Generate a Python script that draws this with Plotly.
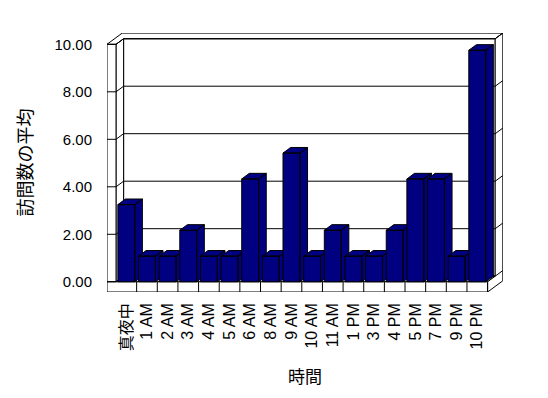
import plotly.graph_objects as go

# ---------------- data ----------------
categories = ["真夜中", "1 AM", "2 AM", "3 AM", "4 AM", "5 AM", "6 AM", "8 AM", "9 AM",
              "10 AM", "11 AM", "1 PM", "3 PM", "4 PM", "5 PM", "7 PM", "9 PM", "10 PM"]
values = [3.25, 1.08, 1.08, 2.17, 1.08, 1.08, 4.33, 1.08, 5.42,
          1.08, 2.17, 1.08, 1.08, 2.17, 4.33, 4.33, 1.08, 9.75]
y_tick_values = [0, 2, 4, 6, 8, 10]
y_tick_labels = ["0.00", "2.00", "4.00", "6.00", "8.00", "10.00"]
x_title = "時間"
y_title = "訪問数の平均"

# ---------------- styling / geometry (pixels) ----------------
W, H = 548, 398
PLOT_L, PLOT_R, PLOT_T, PLOT_B = 106.7, 502.7, 33.0, 291.7
FRONT_X0, FRONT_X1 = 115.7, 487.3      # pixel x of category band edges on front plane
FRONT_Y0, FRONT_Y1 = 281.5, 44.3       # pixel y of value 0 and value 10 on front plane
DEPTH_PX = (7.6, 5.6)                  # oblique depth offset (right, up)
BAR_COLOR = "#000080"
LINE = dict(color="black", width=1)
FONT = "Liberation Sans, Arial, Noto Sans CJK JP, sans-serif"

N = len(categories)
X_LO, X_HI = -0.5, N - 0.5
Y_LO, Y_HI = y_tick_values[0], y_tick_values[-1]
sx = (FRONT_X1 - FRONT_X0) / (X_HI - X_LO)
sy = (FRONT_Y0 - FRONT_Y1) / (Y_HI - Y_LO)
x_range = [X_LO - (FRONT_X0 - PLOT_L) / sx, X_HI + (PLOT_R - FRONT_X1) / sx]
y_range = [Y_LO - (PLOT_B - FRONT_Y0) / sy, Y_HI + (FRONT_Y1 - PLOT_T) / sy]
DX, DY = DEPTH_PX[0] / sx, DEPTH_PX[1] / sy
LW = (FRONT_X0 - PLOT_L) / sx           # left wall thickness
FT = (PLOT_B - FRONT_Y0) / sy           # floor thickness
BAR_W = 0.82

fig = go.Figure()

# ---------------- 3D bars ----------------
for i, v in enumerate(values):
    xl, xr = i - BAR_W / 2, i + BAR_W / 2
    xs, ys = [], []
    # side face
    xs += [xr, xr + DX, xr + DX, xr, xr, None]
    ys += [0, DY, v + DY, v, 0, None]
    # top face
    xs += [xl, xr, xr + DX, xl + DX, xl, None]
    ys += [v, v, v + DY, v + DY, v, None]
    # front face
    xs += [xl, xr, xr, xl, xl]
    ys += [0, 0, v, v, 0]
    fig.add_trace(go.Scatter(
        x=xs, y=ys, mode="lines", fill="toself", fillcolor=BAR_COLOR,
        line=LINE, name=categories[i], hoverinfo="skip", showlegend=False))

# ---------------- walls / floor / grid (shapes below traces) ----------------
shapes = []

def poly(pts, fill="white"):
    path = "M " + " L ".join(f"{x},{y}" for x, y in pts) + " Z"
    shapes.append(dict(type="path", path=path, xref="x", yref="y", layer="below",
                       fillcolor=fill, line=LINE))

def seg(x0, y0, x1, y1):
    shapes.append(dict(type="line", x0=x0, y0=y0, x1=x1, y1=y1, xref="x", yref="y",
                       layer="below", line=LINE))

# back wall inner face
poly([(X_LO + DX, Y_LO + DY), (X_HI + DX, Y_LO + DY), (X_HI + DX, Y_HI + DY), (X_LO + DX, Y_HI + DY)])
# left wall inner face
poly([(X_LO, Y_LO), (X_LO + DX, Y_LO + DY), (X_LO + DX, Y_HI + DY), (X_LO, Y_HI)])
# left wall front edge
poly([(X_LO - LW, Y_LO), (X_LO, Y_LO), (X_LO, Y_HI), (X_LO - LW, Y_HI)])
# floor top
poly([(X_LO, Y_LO), (X_HI, Y_LO), (X_HI + DX, Y_LO + DY), (X_LO + DX, Y_LO + DY)])
# floor front slab
poly([(X_LO - LW, Y_LO - FT), (X_HI, Y_LO - FT), (X_HI, Y_LO), (X_LO - LW, Y_LO)])
# top rim of walls
poly([(X_LO - LW, Y_HI), (X_LO - LW + 2 * DX, Y_HI + 2 * DY), (X_HI + 2 * DX, Y_HI + 2 * DY),
      (X_HI + DX, Y_HI + DY), (X_LO + DX, Y_HI + DY), (X_LO, Y_HI)])
# right end of back wall and floor
poly([(X_HI, Y_LO), (X_HI, Y_LO - FT), (X_HI + 2 * DX, Y_LO - FT + 2 * DY),
      (X_HI + 2 * DX, Y_HI + 2 * DY), (X_HI + DX, Y_HI + DY), (X_HI + DX, Y_LO + DY)])

# gridlines wrapping around walls
for v in y_tick_values:
    seg(X_LO + DX, v + DY, X_HI + DX, v + DY)
    seg(X_LO, v, X_LO + DX, v + DY)
    seg(X_LO - LW, v, X_LO, v)
    seg(X_HI + DX, v + DY, X_HI + 2 * DX, v + 2 * DY)

# category divisions on floor slab
for k in range(N):
    b = k + 0.5
    seg(b, Y_LO - FT, b, Y_LO)

fig.update_layout(
    width=W, height=H,
    margin=dict(l=PLOT_L, r=W - PLOT_R, t=PLOT_T, b=H - PLOT_B, pad=0),
    paper_bgcolor="white", plot_bgcolor="white",
    font=dict(family=FONT, color="black", size=15),
    shapes=shapes,
    showlegend=False,
    xaxis=dict(
        range=x_range, tickmode="array", tickvals=list(range(N)), ticktext=categories,
        tickangle=-90, tickfont=dict(size=16, color="black"), showgrid=False, zeroline=False,
        showline=False, ticks="", ticklabelstandoff=7,
        title=dict(text=x_title, font=dict(size=17), standoff=20),
        fixedrange=True,
    ),
    yaxis=dict(
        range=y_range, tickmode="array", tickvals=y_tick_values, ticktext=y_tick_labels,
        tickfont=dict(size=15), showgrid=False, zeroline=False, showline=False,
        ticks="", ticklabelstandoff=14,
        title=dict(text=y_title, font=dict(size=18), standoff=17),
        fixedrange=True,
    ),
)

fig.write_html("out.html")
